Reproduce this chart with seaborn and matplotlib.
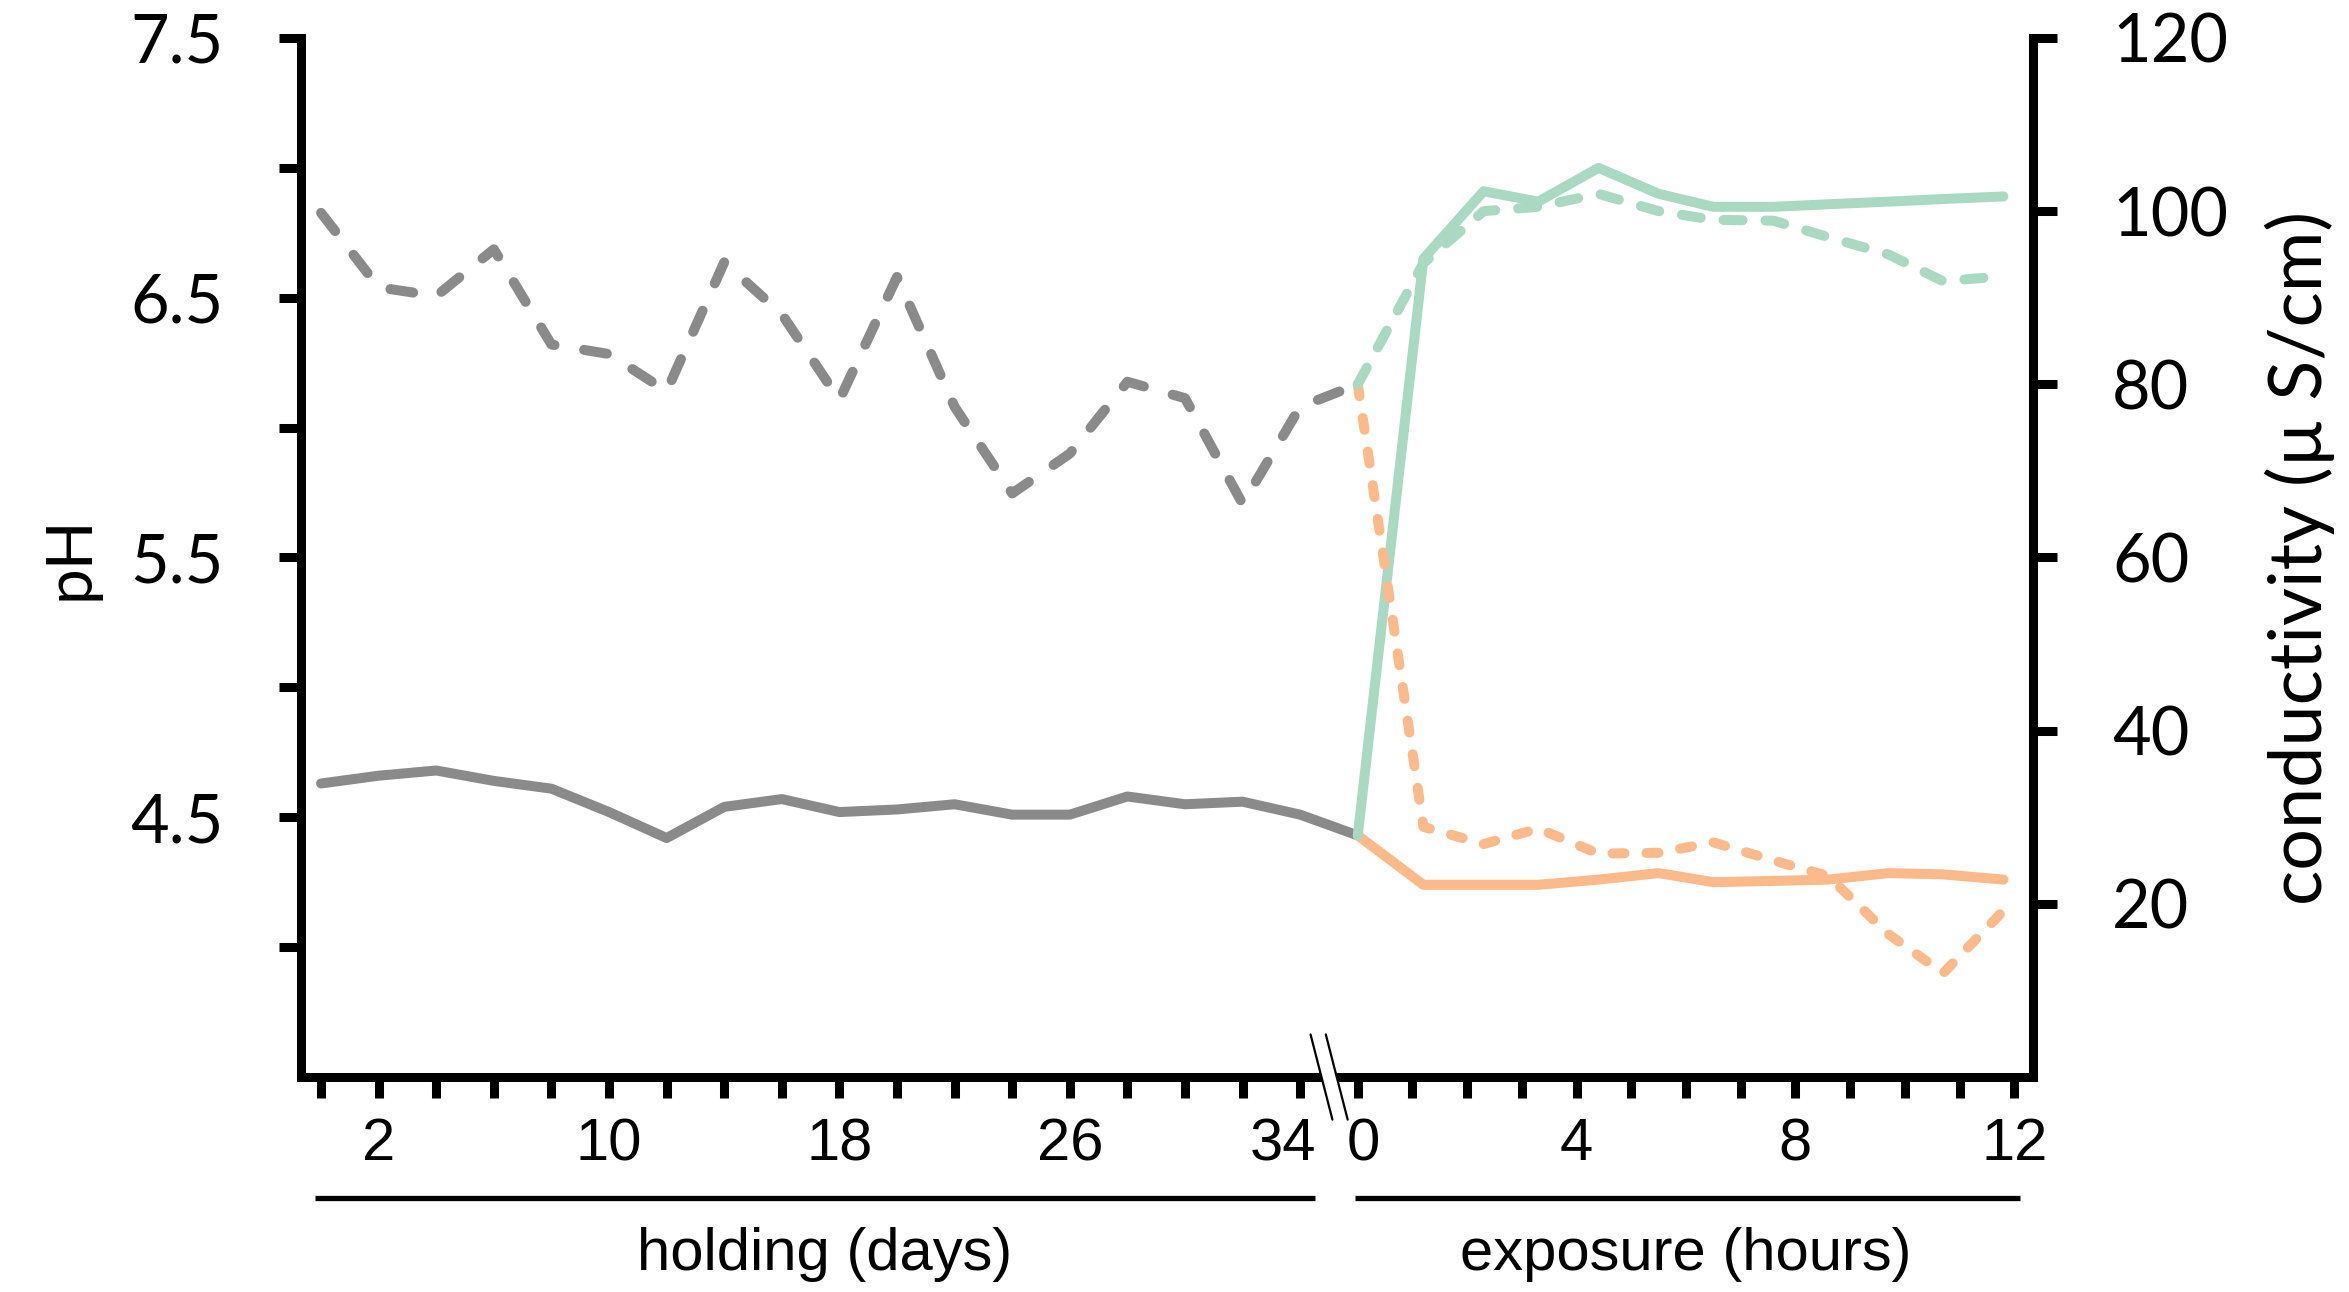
import numpy as np
import pandas as pd
import seaborn as sns
import matplotlib
matplotlib.use("Agg")
from matplotlib import pyplot as plt
from matplotlib import transforms as mtrans
from matplotlib.patches import Polygon

# ----------------------------------------------------------------------------------------------------------------------
#   Dados
# ----------------------------------------------------------------------------------------------------------------------

# holding: a cada 2 dias
days = list(range(0, 35, 2))
hold_ph = [4.63, 4.66, 4.68, 4.64, 4.61, 4.52, 4.42, 4.54, 4.57, 4.52,
           4.53, 4.55, 4.51, 4.51, 4.58, 4.55, 4.56, 4.51]
hold_cond = [99.8, 91.2, 90.2, 95.6, 84.6, 83.5, 79.2, 94.1, 88.1, 78.2,
             92.4, 77.4, 67.4, 72.0, 80.3, 78.4, 66.2, 77.4]

# exposure: horas
hours = [0, 1.2, 2.3, 3.3, 4.4, 5.5, 6.5, 7.6, 8.6, 9.7, 10.7, 11.8]
green_ph = [4.43, 6.65, 6.91, 6.87, 7.00, 6.90, 6.85, 6.85, 6.86, 6.87, 6.88, 6.89]
green_cond = [80.0, 94.0, 100.0, 100.5, 102.0, 100.0, 99.0, 98.9, 97.0, 95.0, 91.9, 92.5]
orange_ph = [4.43, 4.24, 4.24, 4.24, 4.26, 4.285, 4.25, 4.255, 4.26, 4.285, 4.28, 4.26]
orange_cond = [80.0, 28.9, 26.9, 28.7, 25.8, 25.9, 27.1, 25.0, 23.2, 16.5, 12.0, 19.2]

day_ticks = list(range(0, 35, 2))
day_labels = [2, 10, 18, 26, 34]
hour_ticks = list(range(0, 13))
hour_labels = [0, 4, 8, 12]

# eixo x quebrado: horas colocadas depois dos dias
HOUR0 = 36.0
HSCALE = 1.9


def hpos(h):
    return HOUR0 + HSCALE * np.asarray(h, dtype=float)


GREY = "#8a8a8a"
GREEN = "#a9d9c1"
ORANGE = "#fcb98a"

# ----------------------------------------------------------------------------------------------------------------------

sns.set_style("ticks")
plt.rcParams['font.family'] = ['Lato', 'DejaVu Sans']
plt.rcParams['text.color'] = 'black'
plt.rcParams['axes.labelcolor'] = 'black'
plt.rcParams['axes.edgecolor'] = 'black'
plt.rcParams['xtick.color'] = 'black'
plt.rcParams['ytick.color'] = 'black'

hold_x = np.concatenate([days, hpos([hours[0]])])
df_hold = pd.DataFrame({'x': hold_x,
                        'ph': hold_ph + [green_ph[0]],
                        'cond': hold_cond + [green_cond[0]]})
df_exp = pd.DataFrame({'x': hpos(hours),
                       'green_ph': green_ph, 'green_cond': green_cond,
                       'orange_ph': orange_ph, 'orange_cond': orange_cond})

fig = plt.figure(figsize=(23.49, 12.92), dpi=100)
ax = fig.add_axes([0.1281, 0.1664, 0.7374, 0.8042])
ax2 = ax.twinx()

LW = 7.2
dash_grey = (0, (2.3, 3.0))
dash_orange = (0, (1.2, 2.2))
dash_green = (0, (1.9, 2.3))

# pH (solido) no eixo esquerdo
sns.lineplot(data=df_hold, x='x', y='ph', ax=ax, color=GREY, linewidth=LW, sort=False)
sns.lineplot(data=df_exp, x='x', y='orange_ph', ax=ax, color=ORANGE, linewidth=LW, sort=False)
sns.lineplot(data=df_exp, x='x', y='green_ph', ax=ax, color=GREEN, linewidth=LW, sort=False)

# condutividade (tracejado) no eixo direito
sns.lineplot(data=df_hold, x='x', y='cond', ax=ax2, color=GREY, linewidth=LW, sort=False,
             linestyle=dash_grey, dash_capstyle='round')
sns.lineplot(data=df_exp, x='x', y='orange_cond', ax=ax2, color=ORANGE, linewidth=LW, sort=False,
             linestyle=dash_orange, dash_capstyle='round')
sns.lineplot(data=df_exp, x='x', y='green_cond', ax=ax2, color=GREEN, linewidth=LW, sort=False,
             linestyle=dash_green, dash_capstyle='round')

for line in ax.lines + ax2.lines:
    line.set_linewidth(LW)

ax.set_xlim(-0.7, 59.45)
ax.set_ylim(3.5, 7.5)
ax2.set_ylim(0, 120)

# spines
SPW = 6.5
for s in ['top', 'right']:
    ax.spines[s].set_visible(False)
for s in ['top', 'left', 'bottom']:
    ax2.spines[s].set_visible(False)
ax.spines['left'].set_linewidth(SPW)
ax.spines['bottom'].set_linewidth(SPW)
ax2.spines['right'].set_linewidth(SPW)

# ticks y
yt = np.arange(4.0, 7.51, 0.5)
ax.set_yticks(yt)
ax.set_yticklabels(["{:.1f}".format(v) if abs((v * 2) % 2 - 1) < 1e-6 else "" for v in yt])
ax2.set_yticks(range(20, 121, 20))
ax2.set_yticklabels([str(v) for v in range(20, 121, 20)])
ax.tick_params(axis='y', direction='out', length=16, width=SPW, pad=40, labelsize=48)
ax2.tick_params(axis='y', direction='out', length=17, width=SPW, pad=40, labelsize=48)

# ticks x
xt = list(day_ticks) + list(hpos(hour_ticks))
xl = [str(d) if d in day_labels else "" for d in day_ticks] + \
     [str(h) if h in hour_labels else "" for h in hour_ticks]
ax.set_xticks(xt)
ax.set_xticklabels(xl)
ax.tick_params(axis='x', direction='out', length=15, width=SPW, pad=14, labelsize=43)
for lab in ax.get_xticklabels():
    lab.set_fontfamily('Liberation Sans')
    if lab.get_text() == '34':
        lab.set_transform(lab.get_transform() + mtrans.ScaledTranslation(-0.17, 0, fig.dpi_scale_trans))
    if lab.get_text() == '0':
        lab.set_transform(lab.get_transform() + mtrans.ScaledTranslation(0.06, 0, fig.dpi_scale_trans))

ax.set_xlabel("")
ax.set_ylabel("pH", fontsize=46, labelpad=22)
ax2.set_ylabel("conductivity (\u00b5 S/cm)", fontsize=53, labelpad=26)

# marca de quebra no eixo x
trans = mtrans.blended_transform_factory(ax.transData, ax.transAxes)
brk = (days[-1] + float(hpos(hours[0]))) / 2
b1, b2 = brk - 0.26, brk + 0.27
dx, dy = 0.38, 0.041
ax2.add_patch(Polygon([(b1 - dx, dy), (b2 - dx, dy), (b2 + dx, -dy), (b1 + dx, -dy)],
                      closed=True, transform=trans, facecolor='white', edgecolor='none',
                      clip_on=False, zorder=10))
for b in (b1, b2):
    ax2.plot([b - dx, b + dx], [dy, -dy], transform=trans, color='black', lw=1.6,
             clip_on=False, zorder=11)

# linhas e rotulos dos grupos
ybar = -0.1165
ax.plot([days[0] - 0.2, days[-1] + 0.5], [ybar, ybar], transform=trans, color='black',
        lw=3.8, clip_on=False, solid_capstyle='butt')
ax.plot([float(hpos(-0.05)), float(hpos(12.1))], [ybar, ybar], transform=trans, color='black',
        lw=3.8, clip_on=False, solid_capstyle='butt')
ax.text((days[0] + days[-1] + 1) / 2, -0.171, "holding (days)", transform=trans,
        ha='center', va='center', fontsize=43, family='Liberation Sans')
ax.text(float(hpos(6)), -0.171, "exposure (hours)", transform=trans,
        ha='center', va='center', fontsize=43, family='Liberation Sans')

fig.savefig("out.png", dpi=100)
